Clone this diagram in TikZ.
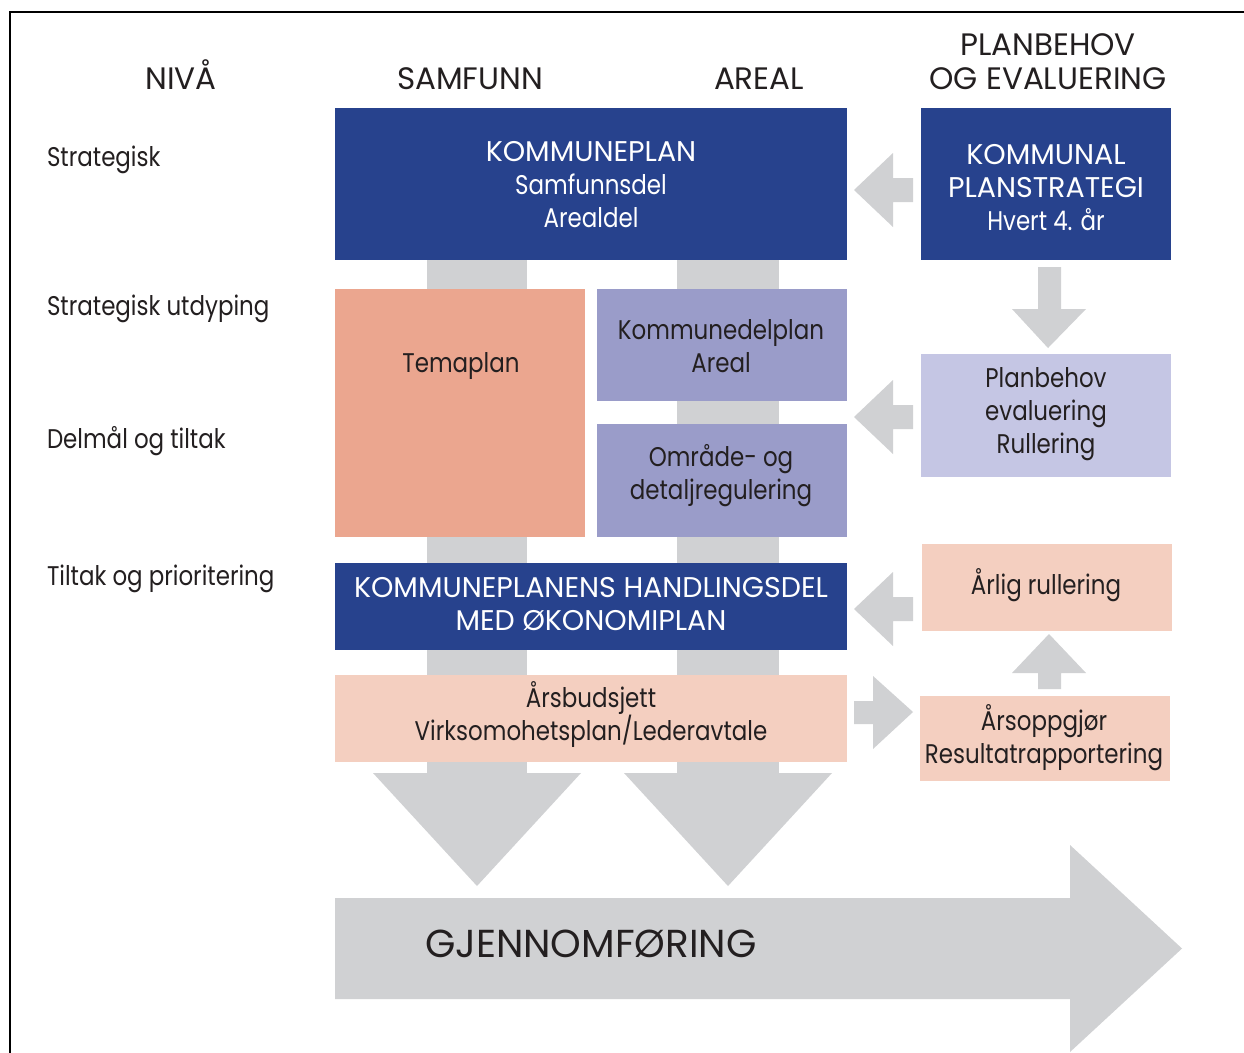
\documentclass[tikz,border=0pt]{standalone}
\usepackage{fontspec}
\setmainfont{Poppins}
\newfontfamily\capsf{Poppins}
\newfontfamily\lcf{Poppins}[FakeStretch=0.85]
\newcommand\CapsText{\capsf\fontsize{28.5}{33}\selectfont}
\newcommand\LcText{\lcf\fontsize{27}{33}\selectfont}
\definecolor{kblue}{RGB}{39,66,141}
\definecolor{ksalmon}{RGB}{235,166,143}
\definecolor{klav}{RGB}{154,156,201}
\definecolor{klavlight}{RGB}{197,198,228}
\definecolor{kpink}{RGB}{244,207,192}
\definecolor{kgray}{RGB}{208,209,211}
\definecolor{ktext}{RGB}{35,31,32}
\begin{document}
\begin{tikzpicture}[x=1pt,y=-1pt,
  txt/.style={inner sep=0pt, outer sep=0pt, align=center, text=ktext, font=\LcText},
  capstxt/.style={txt, font=\CapsText},
  boxbase/.style={inner sep=0pt, outer sep=0pt},
  darkbox/.style={boxbase, fill=kblue},
  salmonbox/.style={boxbase, fill=ksalmon},
  lavbox/.style={boxbase, fill=klav},
  lavlightbox/.style={boxbase, fill=klavlight},
  pinkbox/.style={boxbase, fill=kpink},
  grayshape/.style={fill=kgray, draw=none},
  rowlabel/.style={txt, anchor=base west},
  colhead/.style={txt, anchor=base, font=\capsf\fontsize{31}{34}\selectfont},
]
\useasboundingbox (0,0) rectangle (1244,1052);
\fill[white] (0,0) rectangle (1244,1052);
\begin{scope}
\clip (0,0) rectangle (1244,1052);
\draw[line width=2pt, black] (10,1100) -- (10,12) -- (1300,12);
\end{scope}

% column headers
\node[colhead] (hniva) at (181,89) {NIVÅ};
\node[colhead] (hsamf) at (470,89) {SAMFUNN};
\node[colhead] (hareal) at (759,89) {AREAL};
\node[colhead] (hplan1) at (1048,55) {PLANBEHOV};
\node[colhead] (hplan2) at (1048,89) {OG EVALUERING};

% row labels
\node[rowlabel] (rstrat) at (47,166) {Strategisk};
\node[rowlabel] (rutd) at (47,315) {Strategisk utdyping};
\node[rowlabel] (rdelm) at (47,448) {Delmål og tiltak};
\node[rowlabel] (rtilt) at (47,585) {Tiltak og prioritering};

% vertical column arrows (behind boxes)
\fill[grayshape] (427,260) rectangle (527,774);
\fill[grayshape] (373,773) -- (581,773) -- (477,886) -- cycle;
\fill[grayshape] (677,260) rectangle (779,774);
\fill[grayshape] (624,773) -- (832,773) -- (728,886) -- cycle;

% GJENNOMFØRING arrow
\fill[grayshape] (335,898) -- (1070,898) -- (1070,845) -- (1182,948.5) -- (1070,1052) -- (1070,999) -- (335,999) -- cycle;
\node[txt, anchor=west, font=\capsf\fontsize{39}{40}\selectfont] (gjen) at (425,944) {GJENNOMFØRING};

% boxes
\node[darkbox, minimum width=512, minimum height=152] (kp) at (591,184) {};
\node[txt, text=white] (kpT) at (591,185) {{\CapsText KOMMUNEPLAN}\\Samfunnsdel\\Arealdel};
\node[darkbox, minimum width=250, minimum height=152] (kps) at (1046,184) {};
\node[txt, text=white] (kpsT) at (1046,188) {{\CapsText KOMMUNAL}\\{\CapsText PLANSTRATEGI}\\Hvert 4. år};
\node[salmonbox, minimum width=250, minimum height=248] (tema) at (460,413) {};
\node[txt] (temaT) at (461,366) {Temaplan};
\node[lavbox, minimum width=250, minimum height=112] (kdp) at (722,345) {};
\node[txt] (kdpT) at (721,346) {Kommunedelplan\\Areal};
\node[lavbox, minimum width=250, minimum height=113] (omr) at (722,480.5) {};
\node[txt] (omrT) at (721,476) {Område- og\\detaljregulering};
\node[lavlightbox, minimum width=250, minimum height=123] (pbe) at (1046,415.5) {};
\node[txt] (pbeT) at (1046,414) {Planbehov\\evaluering\\Rullering};
\node[darkbox, minimum width=512, minimum height=87] (hand) at (591,606.5) {};
\node[capstxt, text=white] (handT) at (591,604.5) {KOMMUNEPLANENS HANDLINGSDEL\\MED ØKONOMIPLAN};
\node[pinkbox, minimum width=512, minimum height=87] (arsb) at (591,718.5) {};
\node[txt] (arsbT) at (591,714.5) {Årsbudsjett\\Virksomohetsplan/Lederavtale};
\node[pinkbox, minimum width=250, minimum height=87] (arl) at (1047,587.5) {};
\node[txt] (arlT) at (1046,585) {Årlig rullering};
\node[pinkbox, minimum width=250, minimum height=85] (arso) at (1045,738.5) {};
\node[txt] (arsoT) at (1044,737.5) {Årsoppgjør\\Resultatrapportering};

% small block arrows
\newcommand\grayLeftArrow[1]{%
  \fill[grayshape] (854,#1) -- (893,#1-37) -- (893,#1-12) -- (913,#1-12) -- (913,#1+12) -- (893,#1+12) -- (893,#1+37) -- cycle;}
\grayLeftArrow{190}
\grayLeftArrow{417}
\grayLeftArrow{609}
\fill[grayshape] (913,712) -- (873,676) -- (873,701) -- (854,701) -- (854,724) -- (873,724) -- (873,749) -- cycle;
\fill[grayshape] (1038,267) -- (1061,267) -- (1061,309) -- (1086,309) -- (1048,348) -- (1012,309) -- (1038,309) -- cycle;
\fill[grayshape] (1049,634) -- (1086,673) -- (1061,673) -- (1061,689) -- (1038,689) -- (1038,673) -- (1012,673) -- cycle;
\end{tikzpicture}
\end{document}
